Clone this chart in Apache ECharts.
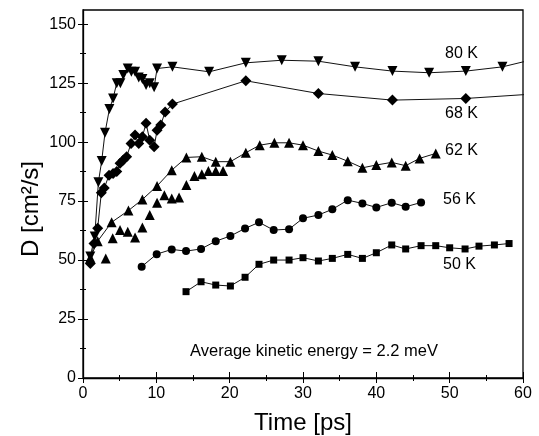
<!DOCTYPE html>
<html><head><meta charset="utf-8">
<script src="https://cdn.jsdelivr.net/npm/echarts@6/dist/echarts.min.js"></script>
<style>html,body{margin:0;padding:0;background:#fff}#c{width:539px;height:436px}</style>
</head><body><div id="c"></div>
<script>
const FONT = "'Liberation Sans', Arial, Helvetica, sans-serif";

// ---- data (x = time [ps], y = D [cm^2/s]) ----
const s80K = [[1.0,51.5],[1.6,60],[2.1,83],[2.55,92],[3.0,104],[3.6,114],[4.1,118.5],[4.6,125],[5.1,125],[5.5,128.4],[6.1,131.2],[6.6,129.8],[7.1,129.8],[7.6,127.4],[8.1,126.7],[8.6,124.2],[9.1,124.9],[9.7,123.2],[10.1,131.2],[12.2,131.9],[17.2,129.8],[22.2,133.6],[27.1,134.7],[32.1,134.3],[37.1,131.9],[42.2,130.1],[47.2,129.4],[52.2,130.1],[57.2,131.9],[62,135.5]];
const s68K = [[1.0,48.5],[1.5,57],[2.0,63.5],[2.5,78.5],[2.9,80.5],[3.55,86],[4.1,86.7],[4.6,87.5],[5.05,91],[5.5,92.4],[5.95,93.8],[6.55,99.4],[7.1,103],[7.6,99.4],[8.1,102.3],[8.6,108],[9.1,100.8],[9.7,98],[10.1,105],[10.6,107.2],[11.2,112.8],[12.2,116.1],[22.2,126],[32.1,120.6],[42.2,117.8],[52.2,118.5],[62,120.5]];
const s62K = [[1.0,51],[2.0,58],[3.9,66],[6.2,71],[8.1,75.7],[10.1,81.4],[12.1,88.1],[14.1,93.5],[16.2,93.8],[18.1,91.7],[20.1,91.7],[22.2,95.5],[24.1,98.7],[26.1,99.7],[28.1,99.7],[30.0,98.7],[32.1,96.2],[34.0,94.5],[36.1,91.9],[38.1,89.1],[40.0,90.3],[42.1,91.4],[44.0,90],[45.9,93.1],[48.1,95.2]];
const s62Kb = [[3.1,50.7],[4.05,59.2],[5.05,62.7],[6.1,62],[7.1,59.6],[8.1,63.8],[9.1,69.1],[10.1,74.3],[11.1,77.5],[12.1,76.1],[13.1,76.5],[14.1,81.8],[15.2,85.6],[16.2,86.4],[17.1,87.8],[18.1,87.8],[19.1,87.8]];
const s56K = [[8.0,47.2],[10.05,52.5],[12.1,54.5],[14.05,53.8],[16.1,54.7],[18.1,58],[20.1,60.2],[22.1,63.4],[24.0,66],[26.0,62.7],[28.1,63.1],[30.0,67.7],[32.1,69.1],[34.0,71.5],[36.1,75.4],[38.1,74],[40.0,72.3],[42.1,74.3],[44.0,72.6],[46.1,74.4]];
const s50K = [[14.05,36.6],[16.1,40.8],[18.1,39.4],[20.1,39],[22.1,42.7],[24.0,48.2],[26.0,50],[28.1,50],[30.0,51],[32.1,49.6],[34.0,50.7],[36.1,52.4],[38.1,50.7],[40.0,53.1],[42.1,56.4],[44.0,54.7],[46.1,56.1],[48.1,56.1],[50.0,55.2],[52.1,54.7],[54.0,55.9],[56.1,56.4],[58.1,57]];

const xMajor = [0,10,20,30,40,50,60];
const xMinor = [5,15,25,35,45,55];
const yMajor = [0,25,50,75,100,125,150];
const yMinor = [12.5,37.5,62.5,87.5,112.5,137.5];
const seriesLabels = ['80 K','68 K','62 K','56 K','50 K'];
const note = 'Average kinetic energy = 2.2 meV';
const xTitle = 'Time [ps]';
const yTitle = 'D [cm²/s]';

const chart = echarts.init(document.getElementById('c'), null, {renderer:'canvas'});

function xAx(pos, ticks, len, labels){
  return {type:'value', min:0, max:60, position:pos, interval:5,
    axisLine:{show:labels, lineStyle:{color:'#000',width:1.3}},
    axisTick:{show:true, inside:true, length:len, customValues:ticks, lineStyle:{color:'#000',width:1}},
    axisLabel:{show:labels, customValues:xMajor, color:'#000', fontSize:16, fontFamily:FONT, margin:8},
    splitLine:{show:false}};
}
function yAx(pos, ticks, len, labels){
  return {type:'value', min:0, max:156, position:pos, interval:12.5,
    axisLine:{show:labels, lineStyle:{color:'#000',width:1.3}},
    axisTick:{show:true, inside:true, length:len, customValues:ticks, lineStyle:{color:'#000',width:1}},
    axisLabel:{show:labels, customValues:yMajor, color:'#000', fontSize:16, fontFamily:FONT, margin:7},
    splitLine:{show:false}};
}
function ser(name, data, symbol, size, rot, showLine){
  return {name, type:'line', data, xAxisIndex:0, yAxisIndex:0, symbol, symbolSize:size, symbolRotate:rot||0,
    clip:true, animation:false,
    lineStyle:{color:'#111', width:1, opacity: showLine?1:0},
    itemStyle:{color:'#000'}, emphasis:{disabled:true}};
}
const labelPos = [[445,54],[445,114],[445,151],[443,200],[443,265]];
const option = {
  animation:false,
  grid:{left:83, right:16, top:10, bottom:58, show:true, borderColor:'#000', borderWidth:1.3, backgroundColor:'transparent'},
  xAxis:[xAx('bottom',xMajor,6,true), xAx('bottom',xMinor,3,false), xAx('top',xMajor,5,false), xAx('top',xMinor,3,false)],
  yAxis:[yAx('left',yMajor,5,true), yAx('left',yMinor,3,false), yAx('right',yMajor,5,false), yAx('right',yMinor,3,false)],
  series:[
    ser('80 K', s80K, 'triangle', 10, 180, true),
    ser('68 K', s68K, 'diamond', 11, 0, true),
    ser('62 K', s62K, 'triangle', 10, 0, true),
    ser('62 K b', s62Kb, 'triangle', 10, 0, false),
    ser('56 K', s56K, 'circle', 8, 0, true),
    ser('50 K', s50K, 'rect', 7, 0, true)
  ],
  graphic:[
    ...seriesLabels.map((t,i)=>({type:'text', x:labelPos[i][0], y:labelPos[i][1],
      style:{text:t, fill:'#000', fontSize:16, fontFamily:FONT, align:'left', verticalAlign:'middle', textAlign:'left', textVerticalAlign:'middle'}})),
    {type:'text', x:314, y:351, style:{text:note, fill:'#000', fontSize:16.5, fontFamily:FONT, align:'center', verticalAlign:'middle', textAlign:'center', textVerticalAlign:'middle'}},
    {type:'text', x:303, y:423, style:{text:xTitle, fill:'#000', fontSize:24, fontFamily:FONT, align:'center', verticalAlign:'middle', textAlign:'center', textVerticalAlign:'middle'}},
    {type:'text', x:31, y:209, rotation:Math.PI/2, style:{text:yTitle, fill:'#000', fontSize:24, fontFamily:FONT, align:'center', verticalAlign:'middle', textAlign:'center', textVerticalAlign:'middle'}}
  ]
};
chart.setOption(option);
</script></body></html>
